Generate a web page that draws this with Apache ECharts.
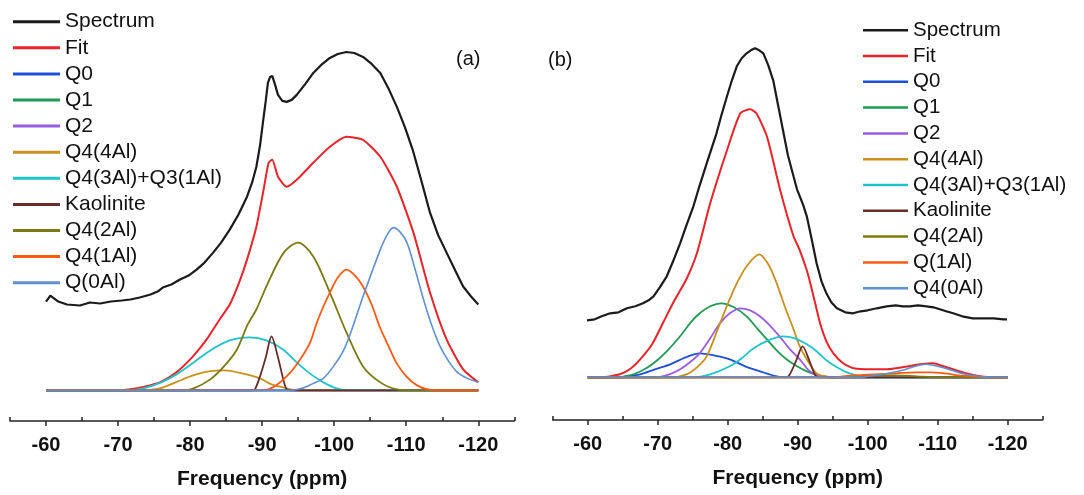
<!DOCTYPE html>
<html>
<head>
<meta charset="utf-8">
<script src="https://cdn.jsdelivr.net/npm/echarts@6/dist/echarts.min.js"></script>
<style>html,body{margin:0;padding:0;background:#fff}#c{width:1084px;height:495px}</style>
</head>
<body>
<div id="c"></div>
<script>
// ---------- tick values ----------
const majorTicks = [-60, -70, -80, -90, -100, -110, -120];
const minorTicks = [-55, -65, -75, -85, -95, -105, -115, -125];

// ---------- legend names ----------
const namesA = ['Spectrum','Fit','Q0','Q1','Q2','Q4(4Al)','Q4(3Al)+Q3(1Al)','Kaolinite','Q4(2Al)','Q4(1Al)','Q(0Al)'];
const namesB = ['Spectrum','Fit','Q0','Q1','Q2','Q4(4Al)','Q4(3Al)+Q3(1Al)','Kaolinite','Q4(2Al)','Q(1Al)','Q4(0Al)'];

// ---------- panel (a) data: [ppm, intensity] ----------
const spectrumA = [[-60,89],[-60.6,95],[-61.7,89],[-62.9,86],[-64.7,85],[-66.1,88],[-67.5,87],[-69,89],[-70.5,90],[-71.7,91],[-73,93],[-74.5,96],[-75.5,99],[-76.2,103],[-77.4,106],[-78.6,111],[-79.8,115],[-80.9,121],[-82,128],[-83.2,138],[-84.3,148],[-85.5,161],[-86.7,176],[-87.9,194],[-88.6,208],[-89.2,224],[-89.7,245],[-90.1,268],[-90.5,290],[-90.8,308],[-91.1,314],[-91.4,315],[-91.8,306],[-92.2,296],[-92.8,290],[-93.4,289],[-94.1,291],[-94.8,296],[-96,307],[-97.1,318],[-98.2,326],[-99.4,333],[-100.5,337],[-101.7,339],[-102.8,338],[-104,334],[-105.2,327],[-106.4,318],[-107.5,303],[-108.7,284],[-109.8,264],[-110.9,241],[-112.1,210],[-113.3,178],[-114.4,156],[-115.6,138],[-116.8,120],[-117.9,104],[-119,94],[-120,86]];
const fitA = [[-60,0],[-70,0],[-71.7,1],[-73.8,4],[-75.8,8],[-78.1,18],[-80.4,34],[-82.3,51],[-84.1,71],[-85.5,86],[-86.8,108],[-87.9,131],[-89.2,164],[-90.2,201],[-90.9,228],[-91.4,231],[-92.2,214],[-93.4,204],[-94.8,211],[-97.1,228],[-99.4,244],[-101.7,254],[-104,251],[-106.4,234],[-108.7,204],[-111,158],[-113.3,98],[-115.6,51],[-117.9,21],[-120,8]];
const q0A = [[-60,0],[-120,0]];
const q1A = [[-60,0],[-120,0]];
const q2A = [[-60,0],[-120,0]];
const q4_4A = [[-60,0],[-73,0],[-75.8,2],[-78,8],[-80.4,15],[-82.6,19],[-84.8,20],[-87.2,17],[-89.7,12],[-91.3,6],[-92.9,3],[-95,0],[-120,0]];
const q4_3A = [[-60,0],[-71,0],[-73.5,2],[-76,8],[-78.1,16],[-80.5,28],[-82.8,40],[-85.5,50],[-88.3,53],[-90.6,50],[-92.9,41],[-94.8,28],[-96.6,17],[-98.5,8],[-100.3,2],[-102,0],[-120,0]];
const kaoA = [[-60,0],[-88.6,0],[-89,1],[-89.7,14],[-90.5,33],[-91.3,54],[-92.2,33],[-92.9,12],[-93.4,1],[-94,0],[-120,0]];
const q4_2A = [[-60,0],[-79,0],[-80.5,2],[-82.8,11],[-84.7,24],[-86.5,41],[-88,66],[-89.2,81],[-90.7,106],[-93,138],[-95,148],[-97.1,134],[-99.4,98],[-101.7,58],[-104,24],[-106.4,8],[-108.7,1],[-111,0],[-120,0]];
const q4_1A = [[-60,0],[-90,0],[-91.5,3],[-93.4,14],[-95,28],[-96.6,47],[-97.6,68],[-98.5,84],[-99.4,98],[-100.5,113],[-101.7,121],[-102.9,115],[-104,104],[-105.2,86],[-106.3,64],[-107.5,45],[-108.6,28],[-110,14],[-111.5,5],[-113,1],[-115,0],[-120,0]];
const q0AlA = [[-60,0],[-94,0],[-95.5,2],[-97.1,7],[-98.5,12],[-99.9,24],[-101.3,40],[-102.5,62],[-104,94],[-106.4,141],[-107.3,155],[-108.2,163],[-109.1,159],[-110.1,148],[-111.2,122],[-112.4,91],[-113.5,66],[-114.7,44],[-115.9,29],[-117.1,18],[-118.5,12],[-120,8]];

// ---------- panel (b) data ----------
const spectrumB = [[-59.9,57],[-61,58],[-62,61],[-63.2,64],[-64.4,65],[-65.6,69],[-66.8,71],[-67.9,74],[-68.7,77],[-69.4,81],[-70.3,90],[-71.3,101],[-72.2,116],[-73.2,134],[-74.1,152],[-75.1,171],[-76,192],[-77,214],[-77.7,229],[-78.4,244],[-79.1,262],[-79.9,281],[-80.6,297],[-81.3,311],[-82,319],[-82.7,324],[-83.3,327],[-83.9,329],[-84.5,327],[-85.1,324],[-85.8,312],[-86.5,297],[-87.2,272],[-87.9,247],[-88.6,222],[-89.4,201],[-89.9,188],[-90.3,181],[-90.8,172],[-91.3,161],[-92,138],[-92.7,114],[-93.4,96],[-94.1,84],[-94.8,75],[-95.6,69],[-96.8,65],[-97.9,64],[-99,66],[-100,67],[-101.3,69],[-102.7,71],[-104,72],[-105,71],[-106,71],[-107.2,72],[-108.4,71],[-109.4,70],[-110.3,68],[-111.2,66],[-112.2,64],[-113.5,61],[-115,59],[-116.5,59],[-118,59],[-119.4,58],[-119.9,58]];
const fitB = [[-60,0],[-62,0],[-64.6,3],[-66,8],[-67.5,18],[-69.2,33],[-70.8,55],[-72.4,77],[-74.1,98],[-75.6,124],[-77.5,174],[-79.9,227],[-81.8,264],[-83.2,268],[-84.1,264],[-85.6,241],[-87.5,187],[-89.4,141],[-90.3,127],[-91.3,107],[-91.8,94],[-92.5,74],[-93.2,54],[-94.1,36],[-95.1,24],[-96.5,14],[-98,9],[-100.5,8],[-102.8,8],[-105,10],[-107.5,13],[-109.4,14],[-110.8,11],[-112.2,8],[-114,4],[-116,1],[-118,0],[-120,0]];
const q0B = [[-60,0],[-64,0],[-65.6,1],[-67.5,3],[-69.6,8],[-71.8,13],[-74,20],[-76,24],[-78,22],[-80.3,18],[-82.5,11],[-84.6,6],[-87,1],[-89,0],[-120,0]];
const q1B = [[-60,0],[-64,0],[-66,2],[-67.6,6],[-69.4,14],[-71.3,26],[-73.2,41],[-74.6,54],[-76,64],[-77.5,71],[-79.1,74],[-80.9,70],[-82.7,61],[-84.2,49],[-85.6,38],[-87,27],[-88.4,18],[-89.9,11],[-91.3,6],[-93,2],[-95,0],[-120,0]];
const q2B = [[-60,0],[-70,0],[-71.7,3],[-73.2,8],[-74.6,15],[-76,24],[-77.5,39],[-78.9,54],[-80.3,64],[-81.8,69],[-83.2,67],[-84.6,61],[-86,52],[-87.4,41],[-88.9,28],[-90.3,18],[-91.7,6],[-93,2],[-95,0],[-120,0]];
const q4_4B = [[-60,0],[-72,0],[-74.1,3],[-75.6,10],[-77,21],[-78.9,54],[-80.1,75],[-81.3,94],[-82.8,112],[-84.5,123],[-85.8,113],[-87,94],[-88.2,70],[-89.4,48],[-90.3,31],[-91.3,18],[-92.7,4],[-94,1],[-96,0],[-120,0]];
const q4_3B = [[-60,0],[-75,0],[-77.5,3],[-80.3,11],[-82,19],[-83.7,29],[-85.8,37],[-87.9,41],[-89.6,39],[-91.3,33],[-92.7,26],[-94.1,17],[-95.6,10],[-97,5],[-99,1],[-101,0],[-120,0]];
const kaoB = [[-60,0],[-88.3,0],[-88.8,2],[-89.8,17],[-90.7,31],[-91.7,16],[-92.5,2],[-93,0],[-120,0]];
const q4_2B = [[-60,0],[-95,0],[-98,1],[-101,2],[-104,2],[-107,1],[-110,0],[-120,0]];
const q1AlB = [[-60,0],[-95,0],[-98,2],[-101,3],[-104,4],[-107,5],[-109,5],[-111,4],[-113,2],[-115,1],[-117,0],[-120,0]];
const q4_0B = [[-60,0],[-98.9,0],[-101,2],[-103,4],[-105,7],[-106.8,11],[-108.4,13],[-110,11],[-112,7],[-114,3],[-116.5,0.5],[-118,0],[-120,0]];

// ---------- styling ----------
const colors = ['#1b1b1b','#e8232a','#1f4fd8','#1f9a52','#9a5ce0','#c8901c','#1fc3c9','#6a2b2b','#7b7a12','#ff5a12','#5e90d2'];
const widths = [2.2,2,1.8,1.8,1.8,1.8,1.8,1.8,1.8,1.8,1.6];
const dataA = [spectrumA, fitA, q0A, q1A, q2A, q4_4A, q4_3A, kaoA, q4_2A, q4_1A, q0AlA];
const dataB = [spectrumB, fitB, q0B, q1B, q2B, q4_4B, q4_3B, kaoB, q4_2B, q1AlB, q4_0B];
const FONT = 'Liberation Sans, Arial, sans-serif';

function mkSeries(names, data, xi, yi) {
  return names.map((n, i) => ({
    name: n, type: 'line', xAxisIndex: xi, yAxisIndex: yi,
    data: data[i], showSymbol: false, symbol: 'none',
    smooth: i === 0 ? false : (i === 1 ? 0.2 : 0.3),
    color: colors[i],
    lineStyle: { color: colors[i], width: widths[i] },
    z: i === 0 ? 3 : 2
  }));
}

function mainAxis(gi) {
  return {
    type: 'value', gridIndex: gi, position: 'bottom', min: -125, max: -55, inverse: true,
    axisLine: { show: true, onZero: false, lineStyle: { color: '#222', width: 1.5 } },
    axisTick: { show: true, inside: false, length: 5, customValues: majorTicks, lineStyle: { color: '#222', width: 1.5 } },
    axisLabel: { show: true, customValues: majorTicks, margin: 14, color: '#111', fontSize: 20, fontWeight: 'bold', fontFamily: FONT },
    splitLine: { show: false },
    name: 'Frequency (ppm)', nameLocation: 'middle', nameGap: 48,
    nameTextStyle: { color: '#111', fontSize: 21, fontWeight: 'bold', fontFamily: FONT }
  };
}
function minorAxis(gi) {
  return {
    type: 'value', gridIndex: gi, position: 'bottom', min: -125, max: -55, inverse: true,
    axisLine: { show: false, onZero: false },
    axisTick: { show: true, inside: true, length: 4, customValues: minorTicks, lineStyle: { color: '#222', width: 1.5 } },
    axisLabel: { show: false }, splitLine: { show: false }
  };
}

const option = {
  animation: false,
  backgroundColor: '#fff',
  grid: [
    { left: 10, width: 504.3, top: 40, bottom: 73.3 },
    { left: 552.7, width: 490, top: 40, bottom: 75 }
  ],
  xAxis: [mainAxis(0), minorAxis(0), mainAxis(1), minorAxis(1)],
  yAxis: [
    { type: 'value', gridIndex: 0, min: -30.7, max: 351, show: false },
    { type: 'value', gridIndex: 1, min: -42.7, max: 337.3, show: false }
  ],
  legend: [
    { data: namesA, orient: 'vertical', left: 13, top: 11.2, padding: 0, itemWidth: 47, itemHeight: 3, icon: 'rect', itemGap: 5.1,
      textStyle: { color: '#111', fontSize: 21, lineHeight: 21, fontFamily: FONT }, selectedMode: false },
    { data: namesB, orient: 'vertical', left: 863, top: 19.7, padding: 0, itemWidth: 45, itemHeight: 2.5, icon: 'rect', itemGap: 4.8,
      textStyle: { color: '#111', fontSize: 20.5, lineHeight: 20.5, fontFamily: FONT }, selectedMode: false }
  ],
  graphic: [
    { type: 'text', left: 456, top: 49, style: { text: '(a)', fontSize: 20, fill: '#111', fontFamily: FONT } },
    { type: 'text', left: 548, top: 50, style: { text: '(b)', fontSize: 20, fill: '#111', fontFamily: FONT } }
  ],
  series: mkSeries(namesA, dataA, 0, 0).concat(mkSeries(namesB, dataB, 2, 1))
};

const chart = echarts.init(document.getElementById('c'), null, { renderer: 'canvas' });
chart.setOption(option);
</script>
</body>
</html>
